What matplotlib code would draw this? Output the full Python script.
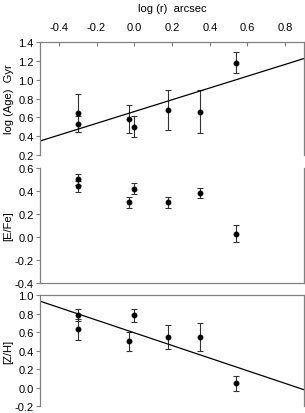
import numpy as np
import matplotlib
matplotlib.use("Agg")
import matplotlib.pyplot as plt
from matplotlib.ticker import FormatStrFormatter, MultipleLocator

plt.rcParams['font.family'] = ['Liberation Sans', 'DejaVu Sans']
plt.rcParams['font.size'] = 8
plt.rcParams['axes.unicode_minus'] = False

# log r (arcsec) of each aperture
log_r = [-0.30, -0.30, -0.03, 0.00, 0.18, 0.35, 0.54]

log_age = [0.65, 0.53, 0.58, 0.50, 0.68, 0.66, 1.18]
log_age_err = [0.20, 0.08, 0.15, 0.11, 0.21, 0.23, 0.11]

efe = [0.50, 0.44, 0.30, 0.42, 0.30, 0.38, 0.03]
efe_err = [0.045, 0.05, 0.05, 0.045, 0.05, 0.045, 0.07]

zh = [0.78, 0.63, 0.50, 0.78, 0.55, 0.55, 0.05]
zh_err = [0.065, 0.11, 0.105, 0.07, 0.13, 0.15, 0.08]

# linear fits (slope, intercept) shown in the figure
age_fit = (0.626, 0.662)
zh_fit = (-0.682, 0.593)

xlim = (-0.5, 0.9)
gray = '#808080'

fig = plt.figure(figsize=(3.05, 4.14), dpi=100)
left, width = 0.131, 0.866
ax1 = fig.add_axes([left, 0.623, width, 0.273])
ax2 = fig.add_axes([left, 0.314, width, 0.278])
ax3 = fig.add_axes([left, 0.016, width, 0.269])

panels = [
    (ax1, log_age, log_age_err, (0.2, 1.4), 'log (Age)  Gyr', age_fit),
    (ax2, efe, efe_err, (-0.4, 0.6), '[E/Fe]', None),
    (ax3, zh, zh_err, (-0.2, 1.0), '[Z/H]', zh_fit),
]

for ax, y, yerr, ylim, label, fit in panels:
    ax.errorbar(log_r, y, yerr=yerr, fmt='o', color='black', ms=3.2,
                elinewidth=0.8, capsize=2.5, capthick=0.8, ecolor='#333333')
    if fit is not None:
        xx = np.array(xlim)
        ax.plot(xx, fit[0] * xx + fit[1], color='black', lw=0.9)
    ax.set_xlim(*xlim)
    ax.set_ylim(*ylim)
    ax.yaxis.set_major_locator(MultipleLocator(0.2))
    ax.yaxis.set_major_formatter(FormatStrFormatter('%.1f'))
    ax.set_ylabel(label, labelpad=2)
    ax.tick_params(axis='y', direction='out', length=3, width=0.8,
                   color=gray, pad=1.5, labelsize=8)
    for s in ax.spines.values():
        s.set_color(gray)
        s.set_linewidth(0.9)

# top panel: x axis on top
ax1.spines['bottom'].set_visible(False)
ax1.xaxis.tick_top()
ax1.xaxis.set_label_position('top')
ax1.xaxis.set_major_formatter(FormatStrFormatter('%.1f'))
ax1.set_xticks(np.arange(-0.4, 0.81, 0.2))
ax1.tick_params(axis='x', direction='in', length=3, width=0.8,
                color=gray, pad=7, labelsize=8)
ax1.set_xlabel('log (r)  arcsec', labelpad=8)

ax2.spines['top'].set_visible(False)
ax2.set_xticks([])

ax3.spines['bottom'].set_visible(False)
ax3.set_xticks([])

for ax in (ax1, ax2, ax3):
    ax.yaxis.set_label_coords(-0.10, 0.5)

fig.savefig('out.png', dpi=100)
